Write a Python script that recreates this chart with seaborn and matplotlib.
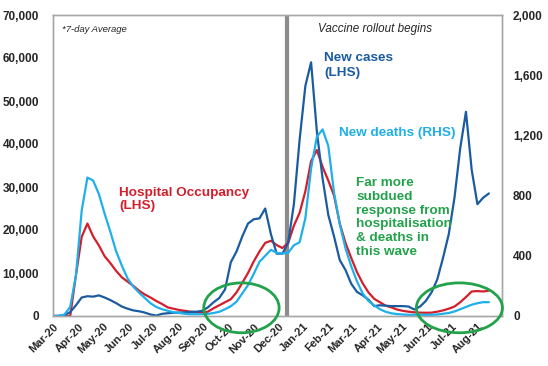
"""Recreate chart: UK Covid new cases, hospital occupancy and deaths (7-day avg)."""

# Imports
import numpy as np
import pandas as pd
import matplotlib
matplotlib.use('Agg')
import matplotlib.pyplot as plt
import matplotlib.dates as mdates
from matplotlib.patches import Ellipse
from matplotlib.ticker import FuncFormatter
import seaborn as sns

# Data (weekly readings, 7-day averages)
week_start = '2020-03-01'
n_weeks = 77

new_cases = [0, 30, 200, 900, 2500, 4300, 4600, 4500, 4800, 4300,
             3700, 3000, 2200, 1700, 1300, 1100, 800, 350, 100, 500,
             650, 750, 800, 850, 950, 1000, 1200, 2000, 3200, 4200,
             6200, 12500, 15000, 18500, 21500, 22500, 22700, 25000, 19000, 14500,
             14500, 17000, 26000, 41000, 53500, 59000, 43000, 32000, 23500, 18500,
             13000, 10700, 7500, 5600, 4800, 3800, 2300, 2500, 2400, 2300,
             2300, 2300, 2200, 1500, 2200, 3500, 5500, 8500, 13500, 19000,
             27500, 39000, 47500, 34000, 26000, 27500, 28500]

hospital_occupancy = [0, 0, 0, 0, 9500, 18400, 21500, 18500, 16400, 13900,
                      12300, 10500, 9000, 8000, 7000, 5900, 5000, 4300, 3500, 2800,
                      2000, 1700, 1400, 1200, 1000, 900, 800, 1000, 1800, 2500,
                      3200, 3900, 5500, 7700, 10000, 12700, 15000, 17000, 17500, 16500,
                      15800, 17000, 21000, 24000, 29000, 36000, 38600, 34700, 31500, 28000,
                      21500, 17000, 13500, 10200, 7600, 5500, 4000, 3200, 2400, 2000,
                      1500, 1200, 1000, 850, 780, 750, 780, 1000, 1300, 1700,
                      2200, 3200, 4400, 5700, 5800, 5700, 5900]

new_deaths = [0, 0, 10, 60, 270, 700, 920, 900, 810, 680,
              560, 430, 335, 250, 195, 155, 120, 85, 60, 45,
              35, 25, 20, 15, 12, 12, 12, 14, 20, 28,
              45, 65, 95, 150, 205, 280, 360, 400, 440, 420,
              415, 420, 470, 490, 650, 980, 1190, 1240, 1130, 820,
              610, 450, 330, 230, 150, 100, 70, 45, 28, 18,
              13, 10, 8, 8, 8, 8, 8, 10, 15, 20,
              30, 45, 60, 75, 85, 92, 92]

vaccine_date = '2020-12-12'
left_ticks = np.arange(0, 70001, 10000)
right_ticks = np.arange(0, 2001, 400)

# Colours
C_CASES = '#1b5ca0'
C_DEATHS = '#1fb0ea'
C_HOSP = '#d11f2c'
C_GREEN = '#22a24a'
C_FRAME = '#a6a6a6'


def plot_covid_chart():
    """
    Plot new cases / hospital occupancy (LHS) and new deaths (RHS).

    :return: figure
    """
    sns.set_style('white')
    plt.rcParams['font.family'] = ['Liberation Sans', 'DejaVu Sans']

    dates = pd.date_range(week_start, periods=n_weeks, freq='7D')
    df = pd.DataFrame({'date': dates, 'cases': new_cases,
                       'hosp': hospital_occupancy, 'deaths': new_deaths})

    fig = plt.figure(figsize=(5.48, 3.66), dpi=100)
    ax = fig.add_axes([53 / 548, 1 - 316 / 366, 449 / 548, 301 / 366])

    sns.lineplot(data=df, x='date', y='hosp', ax=ax, color=C_HOSP, lw=1.6)
    sns.lineplot(data=df, x='date', y='cases', ax=ax, color=C_CASES, lw=1.6)

    ax2 = ax.twinx()
    sns.lineplot(data=df, x='date', y='deaths', ax=ax2, color=C_DEATHS, lw=1.6)

    # Axes limits and ticks
    ax.set_xlim(pd.Timestamp('2020-03-01'), pd.Timestamp('2021-08-31'))
    ax.set_ylim(left_ticks[0], left_ticks[-1])
    ax2.set_ylim(right_ticks[0], right_ticks[-1])
    ax.set_yticks(left_ticks)
    ax2.set_yticks(right_ticks)
    fmt = FuncFormatter(lambda v, p: '{:,.0f}'.format(v))
    ax.yaxis.set_major_formatter(fmt)
    ax2.yaxis.set_major_formatter(fmt)
    ax.xaxis.set_major_locator(mdates.MonthLocator())
    ax.xaxis.set_major_formatter(mdates.DateFormatter('%b-%y'))

    ax.set_xlabel('')
    ax.set_ylabel('')
    ax2.set_ylabel('')

    ax.tick_params(axis='y', length=0, pad=10, labelsize=8.5)
    ax2.tick_params(axis='y', length=0, pad=8, labelsize=8.5)
    ax.tick_params(axis='x', length=3, width=0.8, color=C_FRAME, direction='out',
                   pad=1, labelsize=8)
    for lab in ax.get_xticklabels():
        lab.set_rotation(45)
        lab.set_ha('right')
        lab.set_rotation_mode('anchor')
    for lab in ax.get_xticklabels() + ax.get_yticklabels() + ax2.get_yticklabels():
        lab.set_fontweight('bold')

    for a in (ax, ax2):
        for sp in a.spines.values():
            sp.set_color(C_FRAME)
            sp.set_linewidth(1.0)

    # Vaccine rollout marker
    ax.axvline(pd.Timestamp(vaccine_date), color='#8c8c8c', lw=3, zorder=1)

    # Annotations
    ax.text(0.020, 0.953, '*7-day Average', transform=ax.transAxes, fontsize=6.8,
            style='italic', va='center', ha='left')
    ax.text(0.590, 0.953, 'Vaccine rollout begins', transform=ax.transAxes, fontsize=8.4,
            style='italic', va='center', ha='left')
    ax.text(0.604, 0.877, 'New cases\n(LHS)', transform=ax.transAxes, fontsize=9.7,
            fontweight='bold', color=C_CASES, va='top', ha='left', linespacing=1.3)
    ax.text(0.637, 0.608, 'New deaths (RHS)', transform=ax.transAxes, fontsize=9.7,
            fontweight='bold', color=C_DEATHS, va='center', ha='left')
    ax.text(0.147, 0.427, 'Hospital Occupancy\n(LHS)', transform=ax.transAxes, fontsize=9.7,
            fontweight='bold', color=C_HOSP, va='top', ha='left', linespacing=1.1)
    ax.text(0.675, 0.462,
            'Far more\nsubdued\nresponse from\nhospitalisation\n& deaths in\nthis wave',
            transform=ax.transAxes, fontsize=9.7, fontweight='bold', color=C_GREEN,
            va='top', ha='left', linespacing=1.2)

    # Highlight ellipses (drawn on the RHS axis so they sit above the lines)
    for centre, width in [('2020-10-17', 92), ('2021-07-10', 105)]:
        x_c = mdates.date2num(pd.Timestamp(centre))
        ax2.add_patch(Ellipse((x_c, 1900 / 35), width=width, height=11600 / 35, fill=False,
                              edgecolor=C_GREEN, lw=2, clip_on=False, zorder=5))

    return fig


if __name__ == '__main__':
    fig = plot_covid_chart()
    fig.savefig('out.png', dpi=100)
